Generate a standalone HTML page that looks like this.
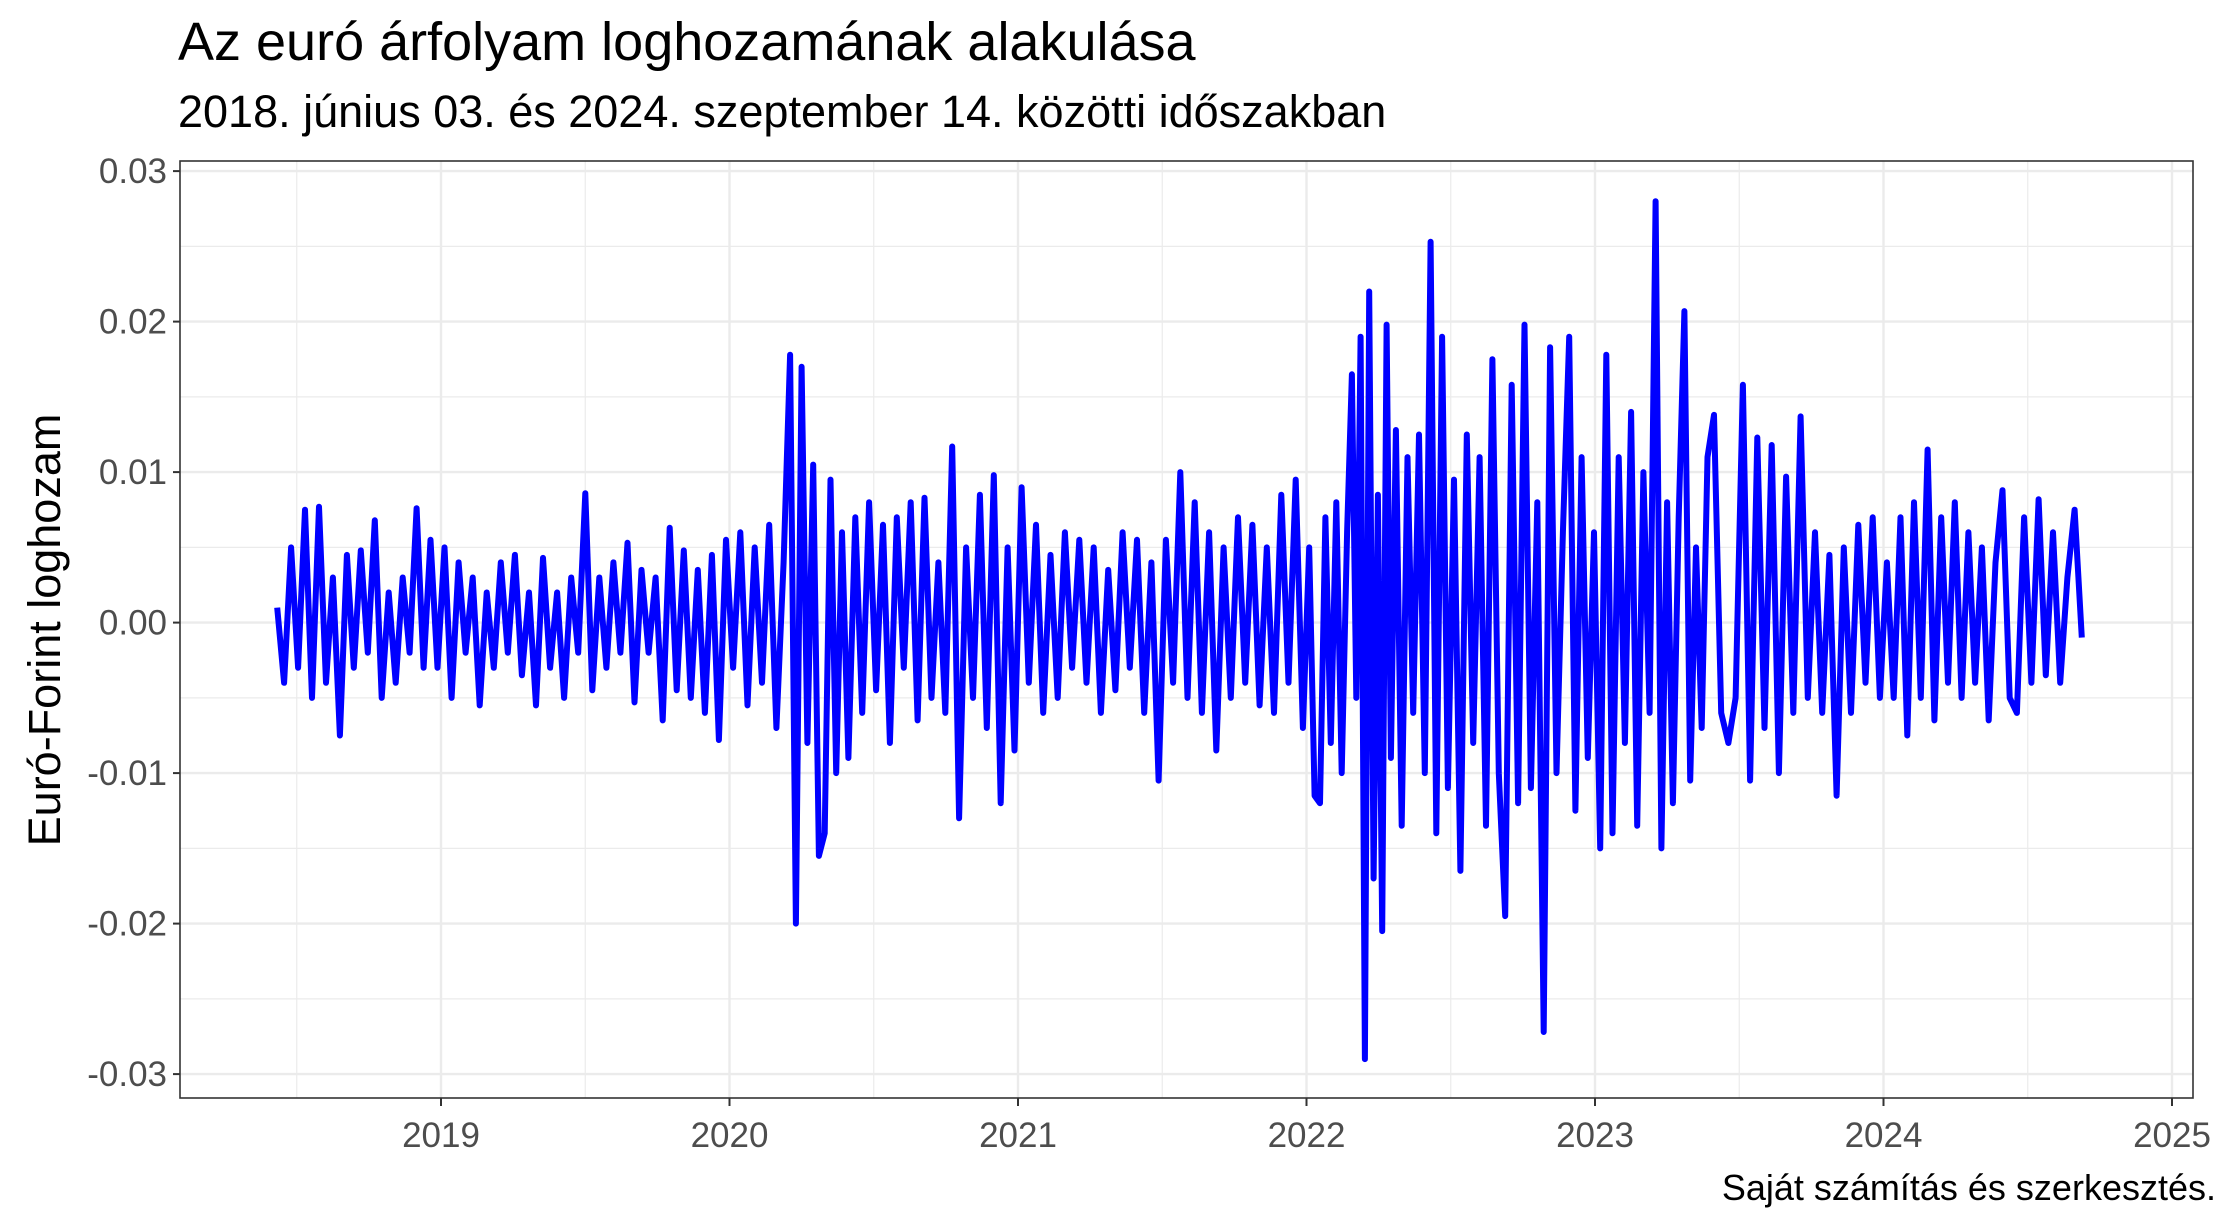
<!DOCTYPE html>
<html><head><meta charset="utf-8">
<style>
html,body{margin:0;padding:0;background:#fff;}
svg{display:block;font-family:"Liberation Sans",Arial,sans-serif;}
</style></head>
<body>
<svg id="chart" width="2239" height="1231" viewBox="0 0 2239 1231">
<rect width="2239" height="1231" fill="#fff"/>
<text x="178" y="60" font-size="54" fill="#000">Az euró árfolyam loghozamának alakulása</text>
<text x="178" y="127" font-size="45" fill="#000">2018. június 03. és 2024. szeptember 14. közötti időszakban</text>
<g id="grid"></g>
<g id="series"></g>
<rect x="180" y="161" width="2013" height="937" fill="none" stroke="#333" stroke-width="1.6"/>
<g id="axes"></g>
<text transform="translate(60,630) rotate(-90)" text-anchor="middle" font-size="45" fill="#000">Euró-Forint loghozam</text>
<text x="2216" y="1200" text-anchor="end" font-size="36" fill="#000">Saját számítás és szerkesztés.</text>
</svg>
<script>
// tick data
const yTicks = [0.03, 0.02, 0.01, 0.00, -0.01, -0.02, -0.03];
const yTickLabels = ["0.03", "0.02", "0.01", "0.00", "-0.01", "-0.02", "-0.03"];
const xTicks = [2019, 2020, 2021, 2022, 2023, 2024, 2025];
const xTickLabels = ["2019", "2020", "2021", "2022", "2023", "2024", "2025"];
// segment boundaries (decimal years); values in thousandths of log-return
const segBounds = [2018.42, 2019.0, 2020.0, 2020.2, 2020.4, 2021.0, 2021.5, 2022.0, 2022.15, 2022.3, 2022.5, 2022.9, 2023.2, 2023.4, 2023.7, 2024.0, 2024.4, 2024.70];
const segValues = [
 [1,-4,5,-3,7.5,-5,7.7,-4,3,-7.5,4.5,-3,4.8,-2,6.8,-5,2,-4,3,-2,7.6,-3,5.5,-3],
 [5,-5,4,-2,3,-5.5,2,-3,4,-2,4.5,-3.5,2,-5.5,4.3,-3,2,-5,3,-2,8.6,-4.5,3,-3,4,-2,5.3,-5.3,3.5,-2,3,-6.5,6.3,-4.5,4.8,-5,3.5,-6,4.5,-7.8,5.5],
 [-3,6,-5.5,5,-4,6.5,-7,4],
 [17.8,-20,17,-8,10.5,-15.5,-14,9.5,-10,6],
 [-9,7,-6,8,-4.5,6.5,-8,7,-3,8,-6.5,8.3,-5,4,-6,11.7,-13,5,-5,8.5,-7,9.8,-12,5,-8.5],
 [9,-4,6.5,-6,4.5,-5,6,-3,5.5,-4,5,-6,3.5,-4.5,6,-3,5.5,-6,4,-10.5],
 [5.5,-4,10,-5,8,-6,6,-8.5,5,-5,7,-4,6.5,-5.5,5,-6,8.5,-4,9.5,-7],
 [5,-11.5,-12,7,-8,8,-10,6],
 [16.5,-5,19,-29,22,-17,8.5,-20.5,19.8,-9],
 [12.8,-13.5,11,-6,12.5,-10,25.3,-14,19,-11],
 [9.5,-16.5,12.5,-8,11,-13.5,17.5,-10,-19.5,15.8,-12,19.8,-11,8,-27.2,18.3,-10,6],
 [19,-12.5,11,-9,6,-15,17.8,-14,11,-8,14,-13.5,10,-6],
 [28,-15,8,-12,7,20.7,-10.5,5,-7,11],
 [13.8,-6,-8,-5,15.8,-10.5,12.3,-7,11.8,-10,9.7,-6],
 [13.7,-5,6,-6,4.5,-11.5,5,-6,6.5,-4,7,-5],
 [4,-5,7,-7.5,8,-5,11.5,-6.5,7,-4,8,-5,6,-4,5,-6.5,4],
 [8.8,-5,-6,7,-4,8.2,-3.5,6,-4,3,7.5,-1]
];

const NS = "http://www.w3.org/2000/svg";
const L = 180, R = 2193, T = 161, B = 1098;
function xScale(yr){ return 441 + (yr - 2019) * 288.5; }
function yScale(v){ return 622.6 - v * 15050; }
function mk(tag, attrs, parent){
  const e = document.createElementNS(NS, tag);
  for (const k in attrs) e.setAttribute(k, attrs[k]);
  parent.appendChild(e); return e;
}
const grid = document.getElementById('grid');
const axes = document.getElementById('axes');
for (let i = 0; i < yTicks.length - 1; i++) {
  const v = (yTicks[i] + yTicks[i+1]) / 2, y = yScale(v);
  const ln = mk('line', {x1:L, x2:R, y1:y, y2:y, stroke:'#EBEBEB', 'stroke-width':1.2}, grid);
  
  
}
const minorX = [xTicks[0] - 0.5].concat(xTicks.slice(0, -1).map(t => t + 0.5));
minorX.forEach(t => {
  const x = xScale(t);
  const ln = mk('line', {x1:x, x2:x, y1:T, y2:B, stroke:'#EBEBEB', 'stroke-width':1.2}, grid);
  
  
});
yTicks.forEach((v, i) => {
  const y = yScale(v);
  const g = mk('line', {x1:L, x2:R, y1:y, y2:y, stroke:'#EBEBEB', 'stroke-width':2.4}, grid);
  
  
  const tk = mk('line', {x1:L-7, x2:L, y1:y, y2:y, stroke:'#333', 'stroke-width':2}, axes);
  
  
  const tx = mk('text', {x:L-13, y:y+12, 'text-anchor':'end', 'font-size':35, fill:'#4D4D4D'}, axes);
  tx.textContent = yTickLabels[i];
  
  
});
xTicks.forEach((t, i) => {
  const x = xScale(t);
  const g = mk('line', {x1:x, x2:x, y1:T, y2:B, stroke:'#EBEBEB', 'stroke-width':2.4}, grid);
  
  
  const tk = mk('line', {x1:x, x2:x, y1:B, y2:B+8, stroke:'#333', 'stroke-width':2}, axes);
  
  
  const tx = mk('text', {x:x, y:B+49, 'text-anchor':'middle', 'font-size':35, fill:'#4D4D4D'}, axes);
  tx.textContent = xTickLabels[i];
  
  
});
let pts = [];
segValues.forEach((vals, s) => {
  const a = segBounds[s], b = segBounds[s+1];
  vals.forEach((v, j) => {
    const yr = a + (b - a) * (j + 0.5) / vals.length;
    pts.push(xScale(yr).toFixed(1) + ',' + yScale(v / 1000).toFixed(1));
  });
});
const line = mk('polyline', {points: pts.join(' '), fill:'none', stroke:'#0000FF', 'stroke-width':6, 'stroke-linejoin':'round'}, document.getElementById('series'));


</script>
</body></html>
